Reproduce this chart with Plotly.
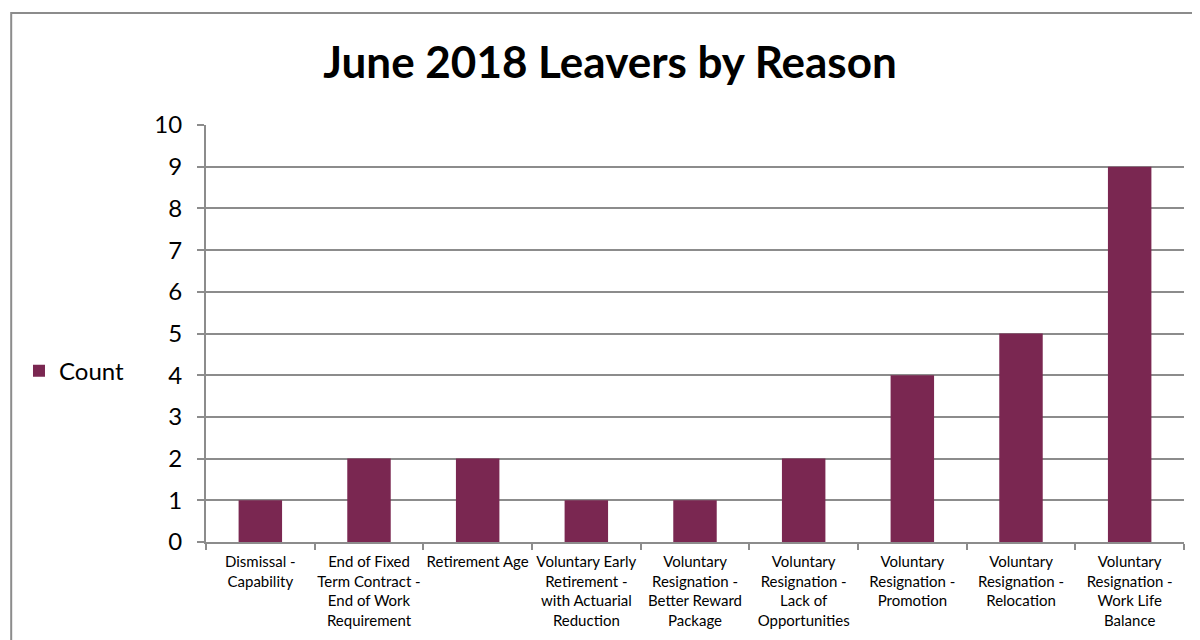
import plotly.graph_objects as go

categories = [
    "Dismissal -<br>Capability",
    "End of Fixed<br>Term Contract -<br>End of Work<br>Requirement",
    "Retirement Age",
    "Voluntary Early<br>Retirement -<br>with Actuarial<br>Reduction",
    "Voluntary<br>Resignation -<br>Better Reward<br>Package",
    "Voluntary<br>Resignation -<br>Lack of<br>Opportunities",
    "Voluntary<br>Resignation -<br>Promotion",
    "Voluntary<br>Resignation -<br>Relocation",
    "Voluntary<br>Resignation -<br>Work Life<br>Balance",
]
counts = [1, 2, 2, 1, 1, 2, 4, 5, 9]
series_name = "Count"
title_text = "June 2018 Leavers by Reason"

FONT = "Lato"
BAR = "#7A2751"
GRID = "#8c8c8c"

# page body has an 8px offset; plot area target: x 205..1184, y 125..542
OFF = 8
L = 205 - OFF
T = 125 - OFF
PW = 979
PH = 417

fig = go.Figure()
fig.add_trace(go.Bar(x=categories, y=counts, name=series_name,
                     marker=dict(color=BAR, line=dict(width=0)),
                     showlegend=True))

fig.update_layout(
    width=1200, height=640,
    margin=dict(l=L, r=1200 - L - PW, t=T, b=640 - T - PH),
    paper_bgcolor="white", plot_bgcolor="white",
    bargap=0.6,
    font=dict(family=FONT, color="#000000"),
    title=dict(text="<b>" + title_text + "</b>", x=(610 - OFF) / 1200,
               xanchor="center", y=1 - (63 - OFF) / 640, yanchor="middle",
               font=dict(family=FONT, size=44, color="#000000")),
    showlegend=True,
    legend=dict(x=-0.19, xanchor="left", y=0.41, yanchor="middle",
                font=dict(family=FONT, size=24, color="#000000"),
                bgcolor="rgba(0,0,0,0)", itemwidth=30),
    xaxis=dict(showline=True, linecolor=GRID, linewidth=2,
               ticks="outside", tickson="boundaries", ticklen=6,
               tickcolor=GRID, tickwidth=2, ticklabelstandoff=5,
               tickfont=dict(family=FONT, size=15, color="#000000"),
               tickangle=0, showgrid=False),
    yaxis=dict(range=[0, 10], dtick=1, showline=True, linecolor=GRID,
               linewidth=2, ticks="outside", ticklen=7, tickcolor=GRID,
               tickwidth=2, showgrid=True, gridcolor=GRID, gridwidth=2,
               zeroline=False, ticklabelstandoff=10,
               tickfont=dict(family=FONT, size=24, color="#000000")),
)

# chart frame (outer border)
fig.add_shape(type="rect", xref="paper", yref="paper",
              x0=(10 - 205) / PW, x1=(1220 - 205) / PW,
              y0=(542 - 670) / PH, y1=(542 - 13) / PH,
              line=dict(color="#8c8c8c", width=2), fillcolor="rgba(0,0,0,0)",
              layer="below")

fig.write_html("out.html")
